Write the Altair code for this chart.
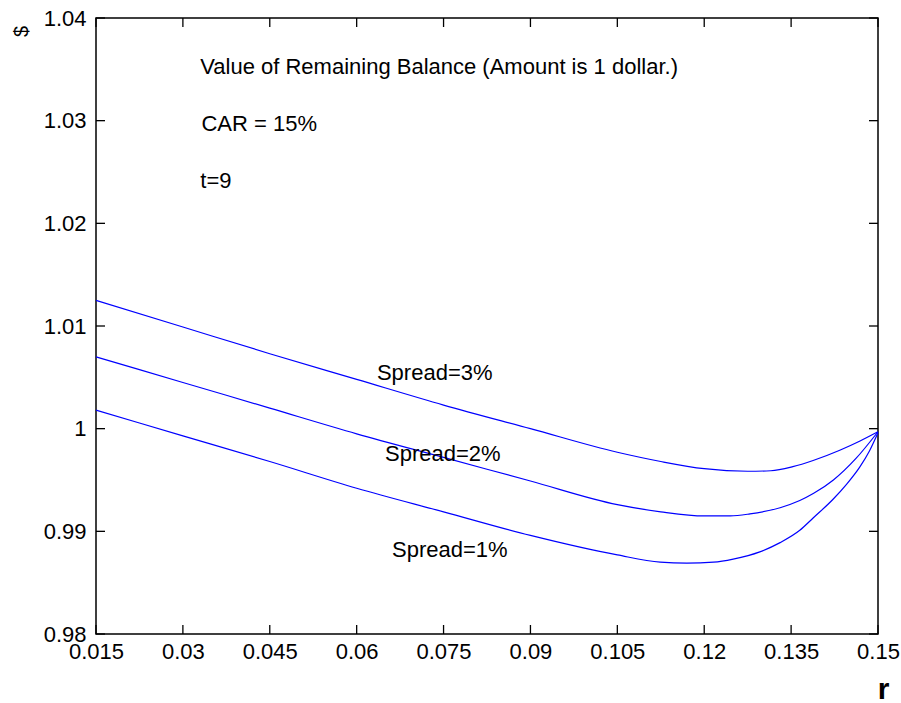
import altair as alt
import pandas as pd

# ---- data ----
r_s3 = [0.015, 0.03, 0.045, 0.06, 0.075, 0.09, 0.105, 0.1125, 0.12, 0.1275, 0.1315, 0.1353, 0.1388, 0.1434, 0.1469, 0.15]
v_s3 = [1.0125, 1.0099, 1.0073, 1.0048, 1.0023, 1.0000, 0.9977, 0.9968, 0.9961, 0.99585, 0.9959, 0.9963, 0.9969, 0.9979, 0.9988, 0.9997]

r_s2 = [0.015, 0.03, 0.045, 0.06, 0.075, 0.09, 0.105, 0.1125, 0.12, 0.1245, 0.1279, 0.1331, 0.1365, 0.1389, 0.1423, 0.1462, 0.15]
v_s2 = [1.0070, 1.0045, 1.0020, 0.9995, 0.9972, 0.9949, 0.9926, 0.9919, 0.99150, 0.99150, 0.9917, 0.9923, 0.9930, 0.9937, 0.9950, 0.9971, 0.9997]

r_s1 = [0.015, 0.03, 0.045, 0.06, 0.075, 0.09, 0.105, 0.1124, 0.117, 0.1216, 0.125, 0.1296, 0.1331, 0.1365, 0.1388, 0.1422, 0.1446, 0.1469, 0.1485, 0.15]
v_s1 = [1.0018, 0.9993, 0.9968, 0.9942, 0.9919, 0.9896, 0.9877, 0.98700, 0.98690, 0.98700, 0.9873, 0.9880, 0.9889, 0.9901, 0.9913, 0.9931, 0.9946, 0.9963, 0.9978, 0.9996]

x_ticks = [0.015, 0.03, 0.045, 0.06, 0.075, 0.09, 0.105, 0.12, 0.135, 0.15]
y_ticks = [0.98, 0.99, 1.0, 1.01, 1.02, 1.03, 1.04]

note_text = ["Value of Remaining Balance (Amount is 1 dollar.)", "CAR = 15%", "t=9",
             "Spread=3%", "Spread=2%", "Spread=1%"]
note_r = [0.0330, 0.0332, 0.0330, 0.0635, 0.0649, 0.0661]
note_v = [1.03454, 1.02902, 1.02344, 1.00477, 0.99682, 0.98751]

# ---- tables ----
rows = []
for name, rs, vs in (("Spread=3%", r_s3, v_s3), ("Spread=2%", r_s2, v_s2), ("Spread=1%", r_s1, v_s1)):
    for a, b in zip(rs, vs):
        rows.append({"series": name, "r": a, "v": b})
curves = pd.DataFrame(rows)
notes = pd.DataFrame({"label": note_text, "r": note_r, "v": note_v})
xt = pd.DataFrame({"r": x_ticks})
yt = pd.DataFrame({"v": y_ticks})

W, H = 782, 616
FONT = "Liberation Sans"
xscale = alt.Scale(domain=[0.015, 0.15], nice=False, zero=False)
yscale = alt.Scale(domain=[0.98, 1.04], nice=False, zero=False)

lines = alt.Chart(curves).mark_line(color="#0000ff", strokeWidth=1.2, interpolate="monotone").encode(
    x=alt.X("r:Q", scale=xscale, axis=alt.Axis(
        values=x_ticks, format="~g", ticks=False, domain=False, grid=False,
        labelFontSize=22, labelFont=FONT, labelColor="black", labelPadding=7,
        labelFlush=False, labelOverlap=False, labelBound=False,
        title="r", titleFont=FONT, titleFontSize=30, titleFontWeight="bold", titleColor="black",
        titleX=787, titleY=64, titleAlign="center", titleBaseline="alphabetic")),
    y=alt.Y("v:Q", scale=yscale, axis=alt.Axis(
        values=y_ticks, format="~g", ticks=False, domain=False, grid=False,
        labelFontSize=22, labelFont=FONT, labelColor="black", labelPadding=10,
        labelFlush=False, labelOverlap=False, labelBound=False,
        title="$", titleFont=FONT, titleFontSize=20, titleFontWeight="normal", titleColor="black",
        titleAngle=270, titleX=-75, titleY=13, titleAlign="center", titleBaseline="middle")),
    detail="series:N",
)

TL = 9
tick_style = dict(color="black", strokeWidth=1.3)
xb = alt.Chart(xt).mark_rule(**tick_style).encode(x="r:Q", y=alt.value(H), y2=alt.value(H - TL))
xtop = alt.Chart(xt).mark_rule(**tick_style).encode(x="r:Q", y=alt.value(0), y2=alt.value(TL))
yl = alt.Chart(yt).mark_rule(**tick_style).encode(y="v:Q", x=alt.value(0), x2=alt.value(TL))
yr = alt.Chart(yt).mark_rule(**tick_style).encode(y="v:Q", x=alt.value(W), x2=alt.value(W - TL))

texts = alt.Chart(notes).mark_text(
    align="left", baseline="alphabetic", font=FONT, fontSize=22, color="black"
).encode(x="r:Q", y="v:Q", text="label:N")

chart = alt.layer(lines, xb, xtop, yl, yr, texts).properties(
    width=W, height=H,
    autosize=alt.AutoSizeParams(type="none"),
    padding={"left": 96, "top": 18, "right": 23, "bottom": 69},
    background="white",
).configure_view(stroke="black", strokeWidth=1.5)

chart.save("out.html", embed_options={"renderer": "svg", "actions": False})
